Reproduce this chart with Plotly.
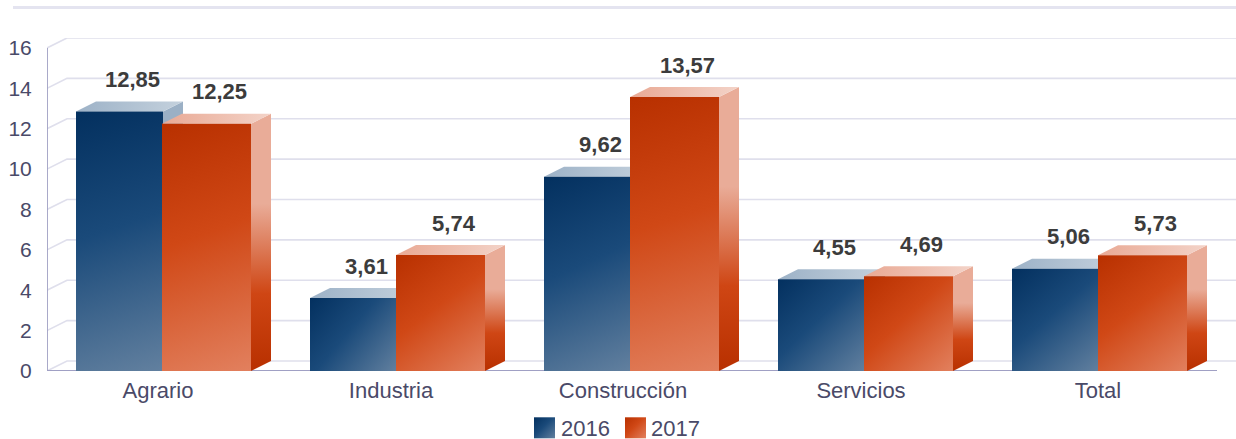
import plotly.graph_objects as go

categories = ["Agrario", "Industria", "Construcción", "Servicios", "Total"]
years = ["2016", "2017"]
values_2016 = [12.85, 3.61, 9.62, 4.55, 5.06]
values_2017 = [12.25, 5.74, 13.57, 4.69, 5.73]
y_ticks = [0, 2, 4, 6, 8, 10, 12, 14, 16]
label_shift_px = [-6, -7, -9, -5, -2]

W, H = 1236, 439
L, B, T = 47, 68, 38
CAT_PX = 234.0
UNIT_PX = 20.19
DX = 20 / CAT_PX
DY = 10 / UNIT_PX
X0 = -0.5
X1 = X0 + (W - L) / CAT_PX
Y1 = (H - B - T) / UNIT_PX
AXIS_END = X0 + 5

offs = {"2016": -88 / CAT_PX, "2017": -2 / CAT_PX}
wids = {"2016": 87 / CAT_PX, "2017": 89 / CAT_PX}
series = {"2016": values_2016, "2017": values_2017}
base_z = {"2016": 1, "2017": 3}
solid = {"2016": "#1a4a7a", "2017": "#cf4614"}
TXT = "#4a4a68"
FONT = "Liberation Sans, Arial, sans-serif"

fig = go.Figure()

# back wall and gridlines
gx, gy = [], []
for v in y_ticks:
    gx += [X0, X0 + DX, X1, None]
    gy += [v, v + DY, v + DY, None]
fig.add_trace(go.Scatter(x=gx, y=gy, mode="lines", line=dict(color="#dfdfec", width=1.6),
                         hoverinfo="skip", showlegend=False, zorder=0, cliponaxis=False))
# axis lines
fig.add_trace(go.Scatter(x=[X0, X0, AXIS_END], y=[y_ticks[-1], 0, 0], mode="lines",
                         line=dict(color="#a0a0c4", width=1.8),
                         hoverinfo="skip", showlegend=False, zorder=0, cliponaxis=False))

for yr in years:
    z = base_z[yr]
    off, wid = offs[yr], wids[yr]
    for i, v in enumerate(series[yr]):
        l = i + off
        r = l + wid
        # side face
        fig.add_trace(go.Scatter(
            x=[r, r + DX, r + DX, r, r], y=[0, DY, v + DY, v, 0], mode="lines", fill="toself",
            fillcolor=solid[yr], line=dict(width=0), hoverinfo="skip", showlegend=False,
            zorder=z, cliponaxis=False, meta="side" + yr))
        # top face
        fig.add_trace(go.Scatter(
            x=[l, r, r + DX, l + DX, l], y=[v, v, v + DY, v + DY, v], mode="lines", fill="toself",
            fillcolor=solid[yr], line=dict(width=0), hoverinfo="skip", showlegend=False,
            zorder=z, cliponaxis=False, meta="top" + yr))
    fig.add_trace(go.Bar(
        x=list(range(len(categories))), y=series[yr], width=wid, offset=off, name=yr,
        marker=dict(color=solid[yr], line=dict(width=0)), zorder=z + 1, meta="front" + yr,
        customdata=categories, hovertemplate="%{customdata}: %{y:.2f}<extra>" + yr + "</extra>"))

# value labels
for yr in years:
    off, wid = offs[yr], wids[yr]
    fig.add_trace(go.Scatter(
        x=[i + off + wid / 2 + 13 / CAT_PX for i in range(len(categories))],
        y=[v + 30 / UNIT_PX for v in series[yr]],
        text=[f"{v:.2f}".replace(".", ",") for v in series[yr]],
        mode="text", textposition="middle center",
        textfont=dict(family=FONT, size=22, color="#3c3c3c", weight="bold"),
        hoverinfo="skip", showlegend=False, zorder=6, cliponaxis=False))

fig.update_layout(
    width=W, height=H, autosize=False, barmode="overlay",
    margin=dict(l=L, r=0, t=T, b=B, pad=0, autoexpand=False),
    paper_bgcolor="white", plot_bgcolor="white",
    font=dict(family=FONT, size=21, color=TXT),
    xaxis=dict(range=[X0, X1], tickmode="array",
               tickvals=[i + s / CAT_PX for i, s in enumerate(label_shift_px)],
               ticktext=categories, showgrid=False, zeroline=False, showline=False,
               ticks="outside", ticklen=0, tickcolor="rgba(0,0,0,0)",
               tickfont=dict(family=FONT, size=22, color=TXT)),
    yaxis=dict(range=[0, Y1], tickmode="array", tickvals=y_ticks, showgrid=False,
               zeroline=False, showline=False, ticks="outside", ticklen=10,
               tickcolor="rgba(0,0,0,0)", tickfont=dict(family=FONT, size=21, color=TXT)),
    legend=dict(orientation="h", xref="container", yref="container", x=521 / W, xanchor="left",
                y=1 - 407 / H, yanchor="top", entrywidthmode="pixels", entrywidth=45,
                itemclick=False, itemdoubleclick=False, bgcolor="rgba(0,0,0,0)",
                font=dict(family=FONT, size=22, color=TXT)),
    shapes=[dict(type="line", xref="paper", yref="paper",
                 x0=(13 - L) / (W - L), x1=1, y0=1 + (T - 7.5) / (H - T - B), y1=1 + (T - 7.5) / (H - T - B),
                 line=dict(color="#e4e4f0", width=3))],
)

post = r"""
document.body.style.margin = '0';
var gd = document.getElementById('{plot_id}');
var NS = 'http://www.w3.org/2000/svg';
var FRONT = {
  front2016: [[0,'#03305f'],[0.45,'#1a4a7a'],[1,'#62809f']],
  front2017: [[0,'#b83000'],[0.45,'#d04816'],[1,'#e2805e']]
};
var GR = {
  side2016:  [[0,0,0,1], [[0,'#9bb0c5'],[0.35,'#9bb0c5'],[0.7,'#1c4b7a'],[1,'#03305f']]],
  side2017:  [[0,0,0,1], [[0,'#e9ac98'],[0.35,'#e9ac98'],[0.7,'#cf4614'],[1,'#b83000']]],
  top2016:   [[0,0,1,0], [[0,'#9db2c7'],[1,'#c4d1dd']]],
  top2017:   [[0,0,1,0], [[0,'#e9a994'],[1,'#f3d3c8']]]
};
var defs = gd.querySelector('svg.main-svg defs');
function mk(id, c, stops, user) {
  var g = document.createElementNS(NS, 'linearGradient');
  g.setAttribute('id', id);
  if (user) g.setAttribute('gradientUnits', 'userSpaceOnUse');
  g.setAttribute('x1', c[0]); g.setAttribute('y1', c[1]);
  g.setAttribute('x2', c[2]); g.setAttribute('y2', c[3]);
  stops.forEach(function(s) {
    var st = document.createElementNS(NS, 'stop');
    st.setAttribute('offset', s[0]); st.setAttribute('stop-color', s[1]);
    g.appendChild(st);
  });
  defs.appendChild(g);
}
Object.keys(GR).forEach(function(k) { mk('gr-' + k, GR[k][0], GR[k][1], false); });
function fill(el, id) { el.style.fill = 'url(#' + id + ')'; el.style.fillOpacity = 1; }
var n = 0;
function fillFront(el, k) {
  var b = el.getBBox(), id = 'gr-f' + (n++);
  mk(id, [b.x, b.y, b.x + b.width, b.y + b.height], FRONT[k], true);
  fill(el, id);
}
gd.calcdata.forEach(function(cd) {
  var t = cd[0].trace, k = t.meta;
  if (!k || !cd[0].node3) return;
  var node = cd[0].node3.node();
  if (t.type === 'bar') node.querySelectorAll('.point path').forEach(function(p) { fillFront(p, k); });
  else node.querySelectorAll('path.js-fill').forEach(function(p) { fill(p, 'gr-' + k); });
});
var shift = [3.5, 4.5];
gd.querySelectorAll('.legend .traces').forEach(function(tr, i) {
  var p = tr.querySelector('.legendpoints path');
  if (!p) return;
  p.setAttribute('d', 'M10.5,10.5H-10.5V-10.5H10.5Z');
  p.setAttribute('transform', 'translate(' + (20 + shift[i]) + ',0)');
  p.style.stroke = 'none';
  fillFront(p, 'front' + (2016 + i));
});
"""

fig.write_html("out.html", post_script=post, config={"displayModeBar": False})
